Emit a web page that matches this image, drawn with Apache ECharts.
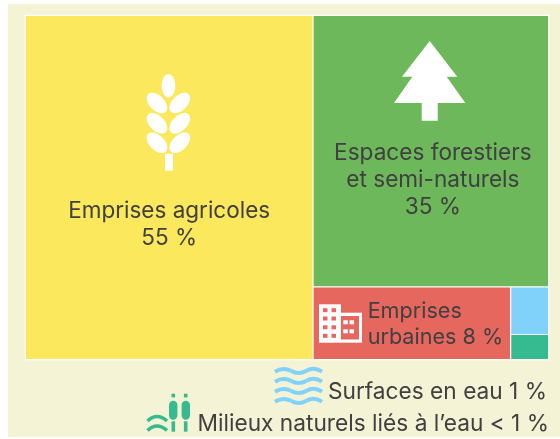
<!DOCTYPE html>
<html><head><meta charset="utf-8">
<style>html,body{margin:0;padding:0;background:#fff}#c{width:560px;height:439px}</style>
<script src="https://cdn.jsdelivr.net/npm/echarts@6/dist/echarts.min.js"></script>
</head><body><div id="c"></div>
<script>
const names = ['Emprises agricoles','Espaces forestiers et semi-naturels','Emprises urbaines','Surfaces en eau','Milieux naturels liés à l’eau'];
const values = [54.8,35.4,7.95,1.0,0.53];
const colors = ['#fbe85c','#6db85a','#e6675e','#80d2fa','#36ba8f'];
const labels = ['Emprises agricoles\n55 %','Espaces forestiers\net semi-naturels\n35 %','Emprises\nurbaines 8 %','Surfaces en eau 1 %','Milieux naturels liés à l’eau < 1 %'];
const txt = '#404040';
const font = {fontFamily:'Inter',fontSize:22.5,color:txt,lineHeight:27,overflow:'none'};
const labelOpts = [
 {...font,offset:[0,37],align:'center'},
 {...font,fontSize:22.6,offset:[2,29],align:'center'},
 {...font,fontSize:21.6,lineHeight:26,position:[49,6],align:'left',verticalAlign:'top'},
 {show:false},{show:false}
];
const W='#fff', R=colors[2], B=colors[3], T=colors[4];
const el=(cx,cy,rx,ry,rot,fill)=>({type:'ellipse',shape:{cx,cy,rx,ry},rotation:rot*Math.PI/180,originX:cx,originY:cy,style:{fill},silent:true});
const rc=(x,y,w,h,fill,r)=>({type:'rect',shape:{x,y,width:w,height:h,r:r||0},style:{fill},silent:true});
const quad=(x1,y1,cx,cy,x2,y2,stroke,lw)=>({type:'bezierCurve',shape:{x1,y1,x2,y2,cpx1:cx,cpy1:cy},style:{fill:null,stroke,lineWidth:lw},silent:true});
const wheat=[el(168.5,85.7,6.8,11.8,0,W)];
[103,123.3,142.7].forEach(y=>{wheat.push(el(157,y,7.5,12.5,45,W));wheat.push(el(179.8,y,7.5,12.5,-45,W));});
wheat.push(rc(165,153.7,8,17,W));
const tree={type:'polygon',shape:{points:[[429.7,41],[457.3,76.7],[446.7,76.7],[465.3,103],[437.7,103],[437.7,120.7],[421.7,120.7],[421.7,103],[394,103],[412.3,76.7],[402,76.7]]},style:{fill:W},silent:true};
const building=[rc(319,304.3,22,38.4,W),rc(341,312.7,21,30,W),rc(341,316,18,23.5,R)];
[323,331.5].forEach(x=>[308.2,316.5,325.3,333.8].forEach(y=>building.push(rc(x,y,4.5,4,R))));
[343.3,349.5].forEach(x=>[320.3,329.3].forEach(y=>building.push(rc(x,y,4.5,4,W))));
const waves=[];
[370.7,380.7,390.7,400.7].forEach(y=>{
 waves.push(quad(275,y+1,283,y-4,291,y,B,4),quad(291,y,298.7,y+4.5,306.5,y,B,4),quad(306.5,y,314,y-4.5,322,y+1,B,4));
});
const reeds=[rc(169,400.7,8.4,19,T,4.2),rc(181.6,400.7,8.4,19,T,4.2),rc(171.5,393.7,3.6,3.7,T),rc(183.9,393.7,3.6,3.7,T),rc(171.5,421.3,3.6,10.4,T),rc(183.9,421.3,3.6,10.4,T),
 quad(147.5,421,157,412,167,421,T,3.5),quad(147.5,430.5,157,421.5,167,430.5,T,3.5)];
const outside=[[547,392,3],[549,424,4]].map(([x,y,i])=>({type:'text',x,y,silent:true,style:{text:labels[i],fontFamily:'Inter',fontSize:22.7,fill:txt,align:'right',verticalAlign:'middle'}}));
const chart=echarts.init(document.getElementById('c'),null,{renderer:'canvas'});
chart.setOption({
 animation:false,
 graphic:[{type:'rect',z:-10,shape:{x:8,y:4,width:552,height:433},style:{fill:'#f5f3d5'}},
  ...[...wheat,tree,...building,...waves,...reeds,...outside].map(g=>({...g,z:100}))],
 series:[{type:'treemap',left:24.7,top:14.7,width:524.6,height:345.6,roam:false,nodeClick:false,breadcrumb:{show:false},
  itemStyle:{borderColor:'#fff',borderWidth:0.6,gapWidth:0},
  label:{show:true,position:'inside'},upperLabel:{show:false},
  data:names.map((n,i)=>({name:n,value:values[i],itemStyle:{color:colors[i]},label:{show:labelOpts[i].show!==false,formatter:labels[i],...labelOpts[i]}}))
 }]
});
</script></body></html>
